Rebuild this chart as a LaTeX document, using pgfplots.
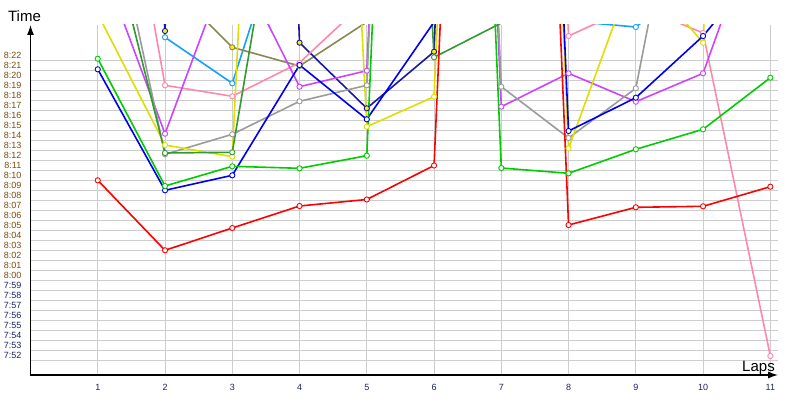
\documentclass[border=0pt]{standalone}
\usepackage{fontspec}
\setmainfont{Liberation Sans}
\usepackage{pgfplots}
\pgfplotsset{compat=1.18}
\usetikzlibrary{arrows.meta}
\definecolor{cred}{RGB}{255,0,0}
\definecolor{cgreen}{RGB}{0,204,0}
\definecolor{cblue}{RGB}{0,0,240}
\definecolor{cnavy}{RGB}{25,25,160}
\definecolor{cpink}{RGB}{255,136,170}
\definecolor{cpurple}{RGB}{204,68,255}
\definecolor{cgray}{RGB}{155,155,155}
\definecolor{cyellow}{RGB}{222,222,0}
\definecolor{cdkgreen}{RGB}{51,153,51}
\definecolor{colive}{RGB}{136,136,80}
\definecolor{clblue}{RGB}{20,160,255}
\definecolor{mfill}{RGB}{255,240,0}
\definecolor{labA}{RGB}{125,75,10}
\definecolor{labB}{RGB}{30,35,95}
\definecolor{gridc}{RGB}{205,205,205}
\begin{document}
\begin{tikzpicture}[x=1pt,y=1pt]
\path[use as bounding box] (0,0) rectangle (800,400);
\begin{axis}[
  at={(30.5pt,25pt)}, anchor=south west,
  scale only axis, width=747.5pt, height=350pt,
  xmin=0, xmax=11.114, ymin=-10, ymax=25,
  axis x line=bottom, axis y line=left,
  axis line style={line width=1.2pt, black, -{Latex[length=10pt,width=7pt]}},
  xtick={1,2,3,4,5,6,7,8,9,10,11},
  xticklabels={1,2,3,4,5,6,7,8,9,10,11},
  ytick={-8,-7,...,22},
  yticklabels={{\color{labB}7:52},{\color{labB}7:53},{\color{labB}7:54},{\color{labB}7:55},{\color{labB}7:56},{\color{labB}7:57},{\color{labB}7:58},{\color{labB}7:59},
    {\color{labA}8:00},{\color{labA}8:01},{\color{labA}8:02},{\color{labA}8:03},{\color{labA}8:04},{\color{labA}8:05},{\color{labA}8:06},{\color{labA}8:07},{\color{labA}8:08},{\color{labA}8:09},{\color{labA}8:10},{\color{labA}8:11},{\color{labA}8:12},{\color{labA}8:13},{\color{labA}8:14},{\color{labA}8:15},{\color{labA}8:16},{\color{labA}8:17},{\color{labA}8:18},{\color{labA}8:19},{\color{labA}8:20},{\color{labA}8:21},{\color{labA}8:22}},
  minor ytick={-8.57,-7.57,...,21.5},
  xmajorgrids=true, ymajorgrids=false, yminorgrids=true,
  grid style={draw=gridc, line width=0.9pt},
  minor grid style={draw=gridc, line width=0.9pt},
  major tick length=0pt, minor tick length=0pt,
  tick label style={font=\fontsize{9}{10}\selectfont},
  xticklabel style={anchor=north, inner sep=0pt, yshift=-9pt, text=labB},
  yticklabel style={anchor=east, inner sep=0pt, xshift=-9pt},
  every axis plot/.append style={line width=1.6pt, mark=*, mark size=2.6pt},
  clip=true,
]
% light blue
\addplot[clblue, mark options={draw=clblue, fill=white, line width=0.9pt}] coordinates {(1,200) (2,23.77) (3,19.17) (4,40) (5,45) (6,45) (7,45) (8,25.4) (9,24.8) (10,30)};
% olive
\addplot[colive, mark options={draw=colive, fill=mfill, line width=0.9pt}] coordinates {(1,60) (2,29.5) (3,22.77) (4,20.9) (5,25.3) (6,60)};
% navy
\addplot[cnavy, mark options={draw=cnavy, fill=mfill, line width=0.9pt}] coordinates {(1,200) (2,24.4) (3,200) (4,23.23) (5,16.67) (6,22.33) (7,200)};
% pink
\addplot[cpink, mark options={draw=cpink, fill=white, line width=0.9pt}] coordinates {(1,56.7) (2,18.97) (3,17.87) (4,21.23) (5,27.5) (6,40) (7,170) (8,23.9) (9,27) (10,24.2) (11,-8.1)};
% purple
\addplot[cpurple, mark options={draw=cpurple, fill=white, line width=0.9pt}] coordinates {(1,32.25) (2,14.13) (3,32.2) (4,18.83) (5,20.43) (6,170) (7,16.83) (8,20.17) (9,17.33) (10,20.17) (11,39)};
% gray
\addplot[cgray, mark options={draw=cgray, fill=white, line width=0.9pt}] coordinates {(1,43.2) (2,12.07) (3,14.07) (4,17.37) (5,18.97) (6,170) (7,18.83) (8,13.7) (9,18.67) (10,53)};
% yellow
\addplot[cyellow, mark options={draw=cyellow, fill=white, line width=0.9pt}] coordinates {(1,26.1) (2,13.0) (3,11.83) (4,150) (5,14.83) (6,17.83) (7,170) (8,12.67) (9,31) (10,23.23) (11,170)};
% dark green
\addplot[cdkgreen, mark options={draw=cdkgreen, fill=white, line width=0.9pt}] coordinates {(1,39.2) (2,12.2) (3,12.27) (4,52) (5,150) (6,21.77) (7,25.2)};
% blue
\addplot[cblue, mark options={draw=cblue, fill=white, line width=0.9pt}] coordinates {(1,20.57) (2,8.47) (3,9.97) (4,21.0) (5,15.57) (6,25.3) (7,170) (8,14.4) (9,17.73) (10,23.9) (11,32)};
% green
\addplot[cgreen, mark options={draw=cgreen, fill=white, line width=0.9pt}] coordinates {(1,21.63) (2,8.9) (3,10.87) (4,10.67) (5,11.93) (6,170) (7,10.7) (8,10.17) (9,12.57) (10,14.57) (11,19.73)};
% red
\addplot[cred, mark options={draw=cred, fill=white, line width=0.9pt}] coordinates {(1,9.47) (2,2.47) (3,4.7) (4,6.9) (5,7.55) (6,10.95) (7,165) (8,5.0) (9,6.77) (10,6.87) (11,8.83)};
\end{axis}
\node[anchor=base, font=\fontsize{15}{16}\selectfont, text=black] at (24.5,378) {Time};
\node[anchor=base, font=\fontsize{15}{16}\selectfont, text=black] at (758.5,29) {Laps};
\end{tikzpicture}
\end{document}
